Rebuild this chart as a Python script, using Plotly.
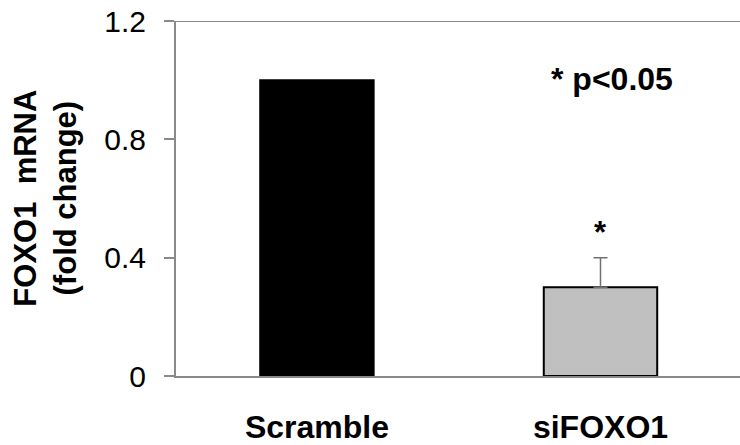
import plotly.graph_objects as go

categories = ["Scramble", "siFOXO1"]
values = [1.0, 0.3]
errors_plus = [0.0, 0.1]
bar_colors = ["#000000", "#c0c0c0"]
y_ticks = [0, 0.4, 0.8, 1.2]
y_tick_labels = ["0", "0.4", "0.8", "1.2"]
y_title_lines = ["FOXO1  mRNA", "(fold change)"]
significance_note = "* p<0.05"
star_text = "*"

FONT = "Liberation Sans, Arial, sans-serif"
AXIS_GRAY = "#8a8a8a"

fig = go.Figure()
for i, cat in enumerate(categories):
    err = None
    if errors_plus[i] > 0:
        err = dict(type="data", array=[errors_plus[i]], arrayminus=[0],
                   symmetric=False, color="#707070", thickness=1.5, width=7)
    fig.add_trace(go.Bar(
        x=[cat], y=[values[i]], width=0.4,
        marker=dict(color=bar_colors[i], line=dict(color="#000000", width=2)),
        error_y=err, showlegend=False,
    ))

# top border line at the maximum of the y axis
fig.add_shape(type="line", xref="paper", yref="y", x0=0, x1=1,
              y0=y_ticks[-1], y1=y_ticks[-1],
              line=dict(color=AXIS_GRAY, width=2))

# significance star above siFOXO1 error bar
fig.add_annotation(x=categories[1], y=values[1] + errors_plus[1], xref="x", yref="y",
                   text="<b>" + star_text + "</b>", showarrow=False, yanchor="bottom", yshift=6,
                   font=dict(family=FONT, size=31, color="#000000"))

# p-value note
fig.add_annotation(x=0.773, y=0.838, xref="paper", yref="paper",
                   text="<b>" + significance_note + "</b>", showarrow=False,
                   xanchor="center", yanchor="middle",
                   font=dict(family=FONT, size=32, color="#000000"))

# y axis title (two lines, rotated)
fig.add_annotation(x=-0.232, y=0.5, xref="paper", yref="paper",
                   text="<b>" + "<br>".join(y_title_lines) + "</b>",
                   showarrow=False, textangle=-90, xanchor="center", yanchor="middle",
                   font=dict(family=FONT, size=31, color="#000000"))

fig.update_layout(
    width=740, height=445,
    margin=dict(l=176, r=0, t=21, b=69, pad=0),
    paper_bgcolor="white", plot_bgcolor="white",
    barmode="overlay",
    font=dict(family=FONT, color="#000000"),
)
fig.update_xaxes(
    range=[-0.497, 1.492],
    showline=True, linecolor=AXIS_GRAY, linewidth=2,
    ticks="", showgrid=False, zeroline=False,
    tickfont=dict(family=FONT, size=32, color="#000000", weight="bold"),
    ticklabelstandoff=22,
)
fig.update_yaxes(
    range=[0, 1.2],
    tickvals=y_ticks, ticktext=y_tick_labels,
    showline=True, linecolor=AXIS_GRAY, linewidth=2,
    ticks="outside", ticklen=10, tickcolor=AXIS_GRAY, tickwidth=2,
    showgrid=False, zeroline=False,
    tickfont=dict(family=FONT, size=30, color="#000000"),
    ticklabelstandoff=12,
)

fig.write_html("out.html", config={"displayModeBar": False},
               post_script="document.body.style.margin='0';document.body.style.overflow='hidden';")
